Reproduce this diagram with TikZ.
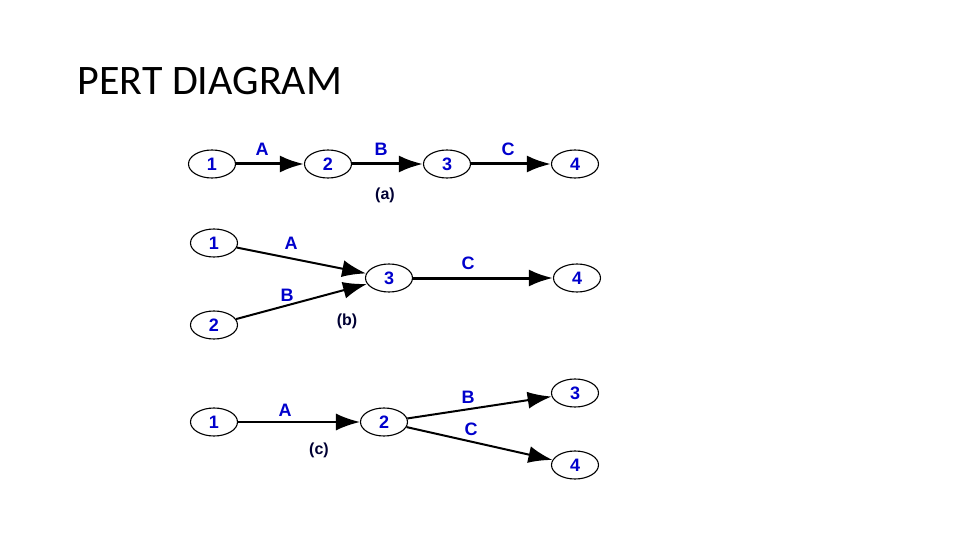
\documentclass[tikz,border=0pt]{standalone}
\usepackage{fontspec}
\setmainfont{Carlito}
\newfontfamily\labelfont{Liberation Sans}
\usetikzlibrary{arrows.meta, shapes.geometric}

\begin{document}
\begin{tikzpicture}[x=1pt, y=-1pt,
		event/.style={draw, ellipse, line width=1.1pt, minimum width=47pt, minimum height=28pt, inner sep=0pt, text=blue!80!black, font=\labelfont\bfseries\fontsize{18}{18}\selectfont},
		act/.style={text=blue!80!black, font=\labelfont\bfseries\fontsize{18}{18}\selectfont},
		case/.style={text=black!80!blue, font=\labelfont\bfseries\fontsize{16}{16}\selectfont},
		arc/.style={-{Latex[length=24pt, width=17pt]}}]
		\useasboundingbox (0, 0) rectangle (960, 540);

		\node[anchor=base west, font=\fontsize{42}{42}\selectfont] (T) at (74, 95) {PERT DIAGRAM};

		% (a) in series
		\node[event] (A1) at (212, 164) {1};
		\node[event] (A2) at (328, 164) {2};
		\node[event] (A3) at (447, 164) {3};
		\node[event] (A4) at (575, 164) {4};
		\draw[arc, line width=3pt] (A1) -- (A2);
		\draw[arc, line width=3pt] (A2) -- (A3);
		\draw[arc, line width=3pt] (A3) -- (A4);
		\node[act] (LA1) at (262, 149) {A};
		\node[act] (LB1) at (381, 149) {B};
		\node[act] (LC1) at (508, 149) {C};
		\node[case] (CA) at (385, 195) {(a)};

		% (b) merge
		\node[event] (B1) at (214, 243) {1};
		\node[event] (B2) at (214, 325) {2};
		\node[event] (B3) at (389, 278) {3};
		\node[event] (B4) at (577, 278) {4};
		\draw[arc, line width=2pt] (B1) -- (B3);
		\draw[arc, line width=2pt] (B2) -- (B3);
		\draw[arc, line width=3pt] (B3) -- (B4);
		\node[act] (LA2) at (291, 243) {A};
		\node[act] (LB2) at (287, 295) {B};
		\node[act] (LC2) at (468, 263) {C};
		\node[case] (CB) at (347, 321) {(b)};

		% (c) burst
		\node[event] (C1) at (214, 422) {1};
		\node[event] (C2) at (384, 422) {2};
		\node[event] (C3) at (575, 393) {3};
		\node[event] (C4) at (575, 465) {4};
		\draw[arc, line width=1.8pt] (C1) -- (C2);
		\draw[arc, line width=2pt] (C2) -- (C3);
		\draw[arc, line width=2pt] (C2) -- (C4);
		\node[act] (LA3) at (285, 410) {A};
		\node[act] (LB3) at (468, 397) {B};
		\node[act] (LC3) at (471, 429) {C};
		\node[case] (CC) at (319, 450) {(c)};
	\end{tikzpicture}
\end{document}
